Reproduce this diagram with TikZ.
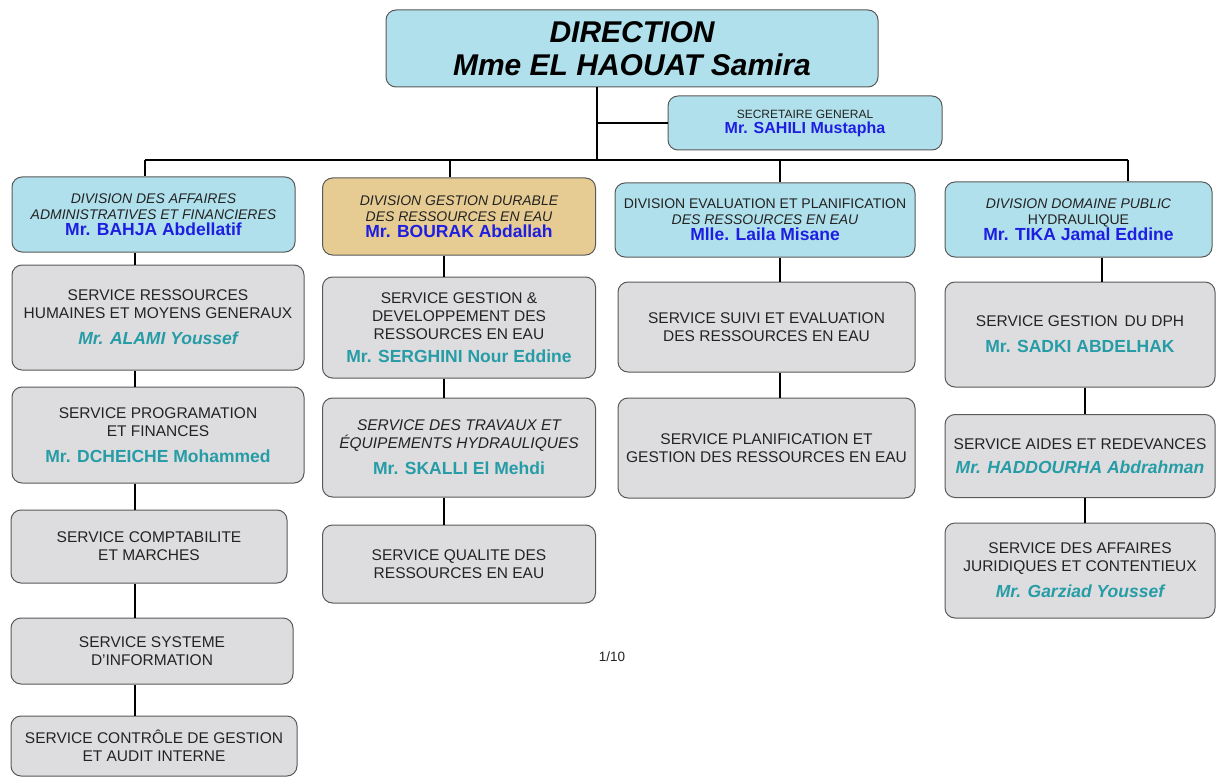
\documentclass[tikz,border=0pt]{standalone}
\usepackage{fontspec}
\setmainfont{Liberation Sans}
\usetikzlibrary{positioning}

\definecolor{waterblue}{RGB}{176,224,236}
\definecolor{sandtan}{RGB}{230,204,146}
\definecolor{marble}{RGB}{221,221,223}
\definecolor{chiefblue}{RGB}{30,30,225}
\definecolor{chiefteal}{RGB}{38,156,166}
\definecolor{titlegray}{RGB}{35,35,35}

\newcommand{\chefdiv}[1]{\textcolor{chiefblue}{\upshape\bfseries\fontsize{17.5}{20}\selectfont #1}}
\newcommand{\chefserv}[1]{\textcolor{chiefteal}{\bfseries\fontsize{17.5}{20}\selectfont #1}}
\newcommand{\chefservit}[1]{\textcolor{chiefteal}{\bfseries\itshape\fontsize{17.5}{20}\selectfont #1}}

\begin{document}
\begin{tikzpicture}[x=1pt, y=-1pt, box/.style={
        rectangle,
        rounded corners=10pt,
        draw=black!65,
        line width=1pt,
        align=center,
        inner sep=0pt,
        text=titlegray
    }, head/.style={
        box,
        fill=waterblue
    }, division/.style={
        box,
        fill=waterblue,
        font=\fontsize{14}{16}\selectfont\itshape
    }, service/.style={
        box,
        fill=marble,
        font=\fontsize{15.5}{18}\selectfont
    }, link/.style={
        line width=2.6pt, black
    }]
    \useasboundingbox (0,0) rectangle (1216,781);
    \fill[white] (0,0) rectangle (1216,781);

    % direction
    \node (direction) [head, text=black, minimum width=492, minimum height=77,
        font=\fontsize{30}{33}\selectfont\bfseries\itshape] at (632,48.5)
        {DIRECTION\\Mme EL HAOUAT Samira};
    \node (secretaire) [head, minimum width=274, minimum height=54,
        font=\fontsize{12}{15}\selectfont] at (805,123)
        {SECRETAIRE GENERAL\\\textcolor{chiefblue}{\bfseries\fontsize{16}{18}\selectfont Mr. SAHILI Mustapha}};

    % divisions
    \node (div1) [division, minimum width=283, minimum height=75] at (153.5,214.5)
        {DIVISION DES AFFAIRES\\ADMINISTRATIVES ET FINANCIERES\\\chefdiv{Mr. BAHJA Abdellatif}};
    \node (div2) [division, fill=sandtan, minimum width=273, minimum height=77] at (459,216.5)
        {DIVISION GESTION DURABLE\\DES RESSOURCES EN EAU\\\chefdiv{Mr. BOURAK Abdallah}};
    \node (div3) [division, minimum width=300, minimum height=74] at (765,220)
        {\upshape DIVISION EVALUATION ET PLANIFICATION\\DES RESSOURCES EN EAU\\\chefdiv{Mlle. Laila Misane}};
    \node (div4) [division, minimum width=267, minimum height=75] at (1078.5,219.5)
        {DIVISION DOMAINE PUBLIC\\\upshape HYDRAULIQUE\\\chefdiv{Mr. TIKA Jamal Eddine}};

    % services of division 1
    \node (serv11) [service, minimum width=292, minimum height=105] at (158,317.5)
        {SERVICE RESSOURCES\\HUMAINES ET MOYENS GENERAUX\\[8pt]\chefservit{Mr. ALAMI Youssef}};
    \node (serv12) [service, minimum width=292, minimum height=96] at (158,435)
        {SERVICE PROGRAMATION\\ET FINANCES\\[8pt]\chefserv{Mr. DCHEICHE Mohammed}};
    \node (serv13) [service, minimum width=276, minimum height=73] at (149,546.5)
        {SERVICE COMPTABILITE\\ET MARCHES};
    \node (serv14) [service, minimum width=282, minimum height=66] at (152,651)
        {SERVICE SYSTEME\\D'INFORMATION};
    \node (serv15) [service, minimum width=286, minimum height=60] at (154,746)
        {SERVICE CONTRÔLE DE GESTION\\ET AUDIT INTERNE};

    % services of division 2
    \node (serv21) [service, minimum width=273, minimum height=101] at (459,327.5)
        {SERVICE GESTION \&\\DEVELOPPEMENT DES\\RESSOURCES EN EAU\\[5pt]\chefserv{Mr. SERGHINI Nour Eddine}};
    \node (serv22) [service, minimum width=273, minimum height=99] at (459,447.5)
        {\itshape SERVICE DES TRAVAUX ET\\\itshape ÉQUIPEMENTS HYDRAULIQUES\\[8pt]\chefserv{Mr. SKALLI El Mehdi}};
    \node (serv23) [service, minimum width=273, minimum height=78] at (459,564)
        {SERVICE QUALITE DES\\RESSOURCES EN EAU};

    % services of division 3
    \node (serv31) [service, minimum width=297, minimum height=90] at (766.5,327)
        {SERVICE SUIVI ET EVALUATION\\DES RESSOURCES EN EAU};
    \node (serv32) [service, minimum width=297, minimum height=100] at (766.5,448)
        {SERVICE PLANIFICATION ET\\GESTION DES RESSOURCES EN EAU};

    % services of division 4
    \node (serv41) [service, minimum width=270, minimum height=105] at (1080,334.5)
        {SERVICE GESTION\, DU DPH\\[8pt]\chefserv{Mr. SADKI ABDELHAK}};
    \node (serv42) [service, minimum width=270, minimum height=83] at (1080,456)
        {SERVICE AIDES ET REDEVANCES\\[6pt]\chefservit{Mr. HADDOURHA Abdrahman}};
    \node (serv43) [service, minimum width=270, minimum height=95] at (1080,570.5)
        {SERVICE DES AFFAIRES\\JURIDIQUES ET CONTENTIEUX\\[8pt]\chefservit{Mr. Garziad Youssef}};

    \node (page) [font=\fontsize{13.5}{15}\selectfont, text=titlegray] at (612,657) {1/10};

    % tree lines
    \coordinate (trunk) at (597,160);
    \coordinate (bus1) at (145,160);
    \coordinate (bus2) at (450,160);
    \coordinate (bus3) at (780,160);
    \coordinate (bus4) at (1128,160);
    \coordinate (col1) at (135,0);
    \coordinate (col2) at (444,0);
    \coordinate (col3) at (780,0);
    \coordinate (col4) at (1085,0);
    \coordinate (col4top) at (1102,0);
    \draw [link] (direction.south -| trunk) -- (trunk);
    \draw [link] (trunk |- secretaire.west) -- (secretaire.west);
    \draw [link] (bus1) -- (bus4);
    \draw [link] (bus1) -- (bus1 |- div1.north);
    \draw [link] (bus2) -- (bus2 |- div2.north);
    \draw [link] (bus3) -- (bus3 |- div3.north);
    \draw [link] (bus4) -- (bus4 |- div4.north);
    \draw [link] (div1.south -| col1) -- (serv11.north -| col1);
    \draw [link] (serv11.south -| col1) -- (serv12.north -| col1);
    \draw [link] (serv12.south -| col1) -- (serv13.north -| col1);
    \draw [link] (serv13.south -| col1) -- (serv14.north -| col1);
    \draw [link] (serv14.south -| col1) -- (serv15.north -| col1);
    \draw [link] (div2.south -| col2) -- (serv21.north -| col2);
    \draw [link] (serv21.south -| col2) -- (serv22.north -| col2);
    \draw [link] (serv22.south -| col2) -- (serv23.north -| col2);
    \draw [link] (div3.south -| col3) -- (serv31.north -| col3);
    \draw [link] (serv31.south -| col3) -- (serv32.north -| col3);
    \draw [link] (div4.south -| col4top) -- (serv41.north -| col4top);
    \draw [link] (serv41.south -| col4) -- (serv42.north -| col4);
    \draw [link] (serv42.south -| col4) -- (serv43.north -| col4);

\end{tikzpicture}
\end{document}
